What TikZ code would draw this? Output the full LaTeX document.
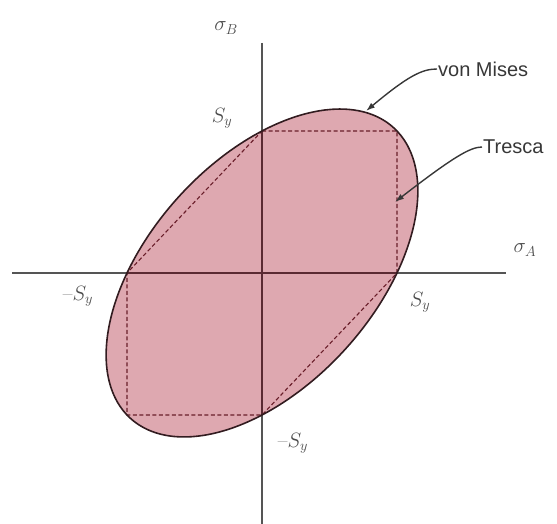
\documentclass[tikz,border=0pt]{standalone}
\usepackage{fontspec}
\newfontfamily\calloutfont{Liberation Sans}
\usetikzlibrary{arrows.meta}
\definecolor{vmfill}{RGB}{222,168,176}
\definecolor{vmline}{RGB}{50,28,32}
\definecolor{trline}{RGB}{105,30,42}
\definecolor{axisgray}{RGB}{85,85,85}
\definecolor{axisin}{RGB}{90,42,50}
\definecolor{calloutcol}{RGB}{55,55,55}
\definecolor{labelcol}{RGB}{75,75,75}
\tikzset{
  axisline/.style={draw=axisgray, line width=1.4pt},
  axisinside/.style={draw=axisin, line width=1.4pt},
  vmcurve/.style={draw=vmline, line width=1.6pt},
  trcurve/.style={draw=trline, line width=1.1pt, dash pattern=on 4pt off 2.5pt},
  mathlbl/.style={text=labelcol, inner sep=0pt, font=\fontsize{21}{25}\selectfont},
  callouttext/.style={text=calloutcol, inner sep=1pt, font=\calloutfont\fontsize{20}{24}\selectfont},
  callarrow/.style={draw=calloutcol, line width=1.4pt, -{Latex[length=9pt,width=6pt]}},
  syunits/.style={shift={(262,273)}, x=135pt, y=142pt}
}
\begin{document}
\begin{tikzpicture}[x=1pt,y=-1pt]
\useasboundingbox (0,0) rectangle (557,524);
\coordinate (O) at (262,273);
\coordinate (xl) at (12,273);
\coordinate (xr) at (506,273);
\coordinate (yt) at (262,43);
\coordinate (yb) at (262,524);
% fill
\begin{scope}[syunits]
  \path[fill=vmfill] plot[domain=0:360, samples=120, smooth cycle, variable=\t]
    ({cos(\t)-sin(\t)/sqrt(3)}, {cos(\t)+sin(\t)/sqrt(3)});
\end{scope}
% axes
\draw[axisline] (xl) -- (xr);
\draw[axisline] (yt) -- (yb);
\begin{scope}[syunits]
  \clip plot[domain=0:360, samples=120, smooth cycle, variable=\t]
    ({cos(\t)-sin(\t)/sqrt(3)}, {cos(\t)+sin(\t)/sqrt(3)});
  \draw[axisinside] (xl) -- (xr);
  \draw[axisinside] (yt) -- (yb);
\end{scope}
% Tresca hexagon and von Mises ellipse
\begin{scope}[syunits]
  \draw[trcurve] (0,1) -- (1,1) -- (1,0) -- (0,-1) -- (-1,-1) -- (-1,0) -- cycle;
  \draw[vmcurve] plot[domain=0:360, samples=120, smooth cycle, variable=\t]
    ({cos(\t)-sin(\t)/sqrt(3)}, {cos(\t)+sin(\t)/sqrt(3)});
\end{scope}
% labels
\node[mathlbl] (sB) at (226,28) {$\sigma_B$};
\node[mathlbl] (sA) at (525,250) {$\sigma_A$};
\node[mathlbl] (syT) at (222,118) {$S_y$};
\node[mathlbl] (syL) at (78,296) {\textendash$S_y$};
\node[mathlbl] (syR) at (420,302) {$S_y$};
\node[mathlbl] (syB) at (293,443) {\textendash$S_y$};
% callouts
\node[callouttext, anchor=west] (vm) at (437,69) {von Mises};
\node[callouttext, anchor=west] (tr) at (482,147) {Tresca};
\coordinate (vmtip) at (366,111);
\coordinate (trtip) at (395,202);
\draw[callarrow] (vm.west) .. controls (422,69) and (408,76) .. (vmtip);
\draw[callarrow] (tr.west) .. controls (470,147) and (452,158) .. (trtip);
\end{tikzpicture}
\end{document}
